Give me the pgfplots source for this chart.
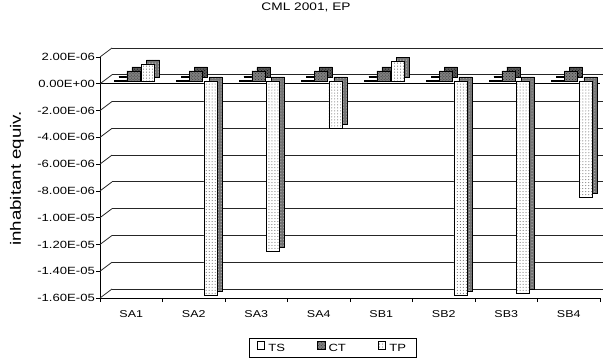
\documentclass[border=0pt]{standalone}
\usepackage{fontspec}
\setmainfont[FakeStretch=1.25]{Liberation Sans}
\usepackage{pgfplots}
\pgfplotsset{compat=1.18}
\usetikzlibrary{patterns}
\definecolor{ctgray}{gray}{0.5}
\definecolor{sidegray}{gray}{0.35}
\definecolor{tpside}{gray}{0.45}
\begin{document}
\begin{tikzpicture}
\begin{axis}[
  at={(100bp,64bp)}, anchor=south west,
  scale only axis, width=500bp, height=241bp,
  xmin=-0.5, xmax=7.5, ymin=-1.6e-5, ymax=2e-6,
  clip=false,
  axis x line=bottom, axis y line=left, axis line style={-, black, line width=0.7pt},
  scaled y ticks=false,
  ytick={-1.6e-5,-1.4e-5,-1.2e-5,-1e-5,-8e-6,-6e-6,-4e-6,-2e-6,0,2e-6},
  yticklabels={-1.60E-05,-1.40E-05,-1.20E-05,-1.00E-05,-8.00E-06,-6.00E-06,-4.00E-06,-2.00E-06,0.00E+00,2.00E-06},
  ymajorgrids,
  major grid style={black!85, line width=0.8pt, xshift=12bp, yshift=9bp},
  tick align=outside, major tick length=4bp,
  tick style={black, line width=0.6pt},
  xtick={-0.5,0.5,...,7.5}, xticklabels={},
  extra x ticks={0,1,2,3,4,5,6,7},
  extra x tick labels={SA1,SA2,SA3,SA4,SB1,SB2,SB3,SB4},
  extra x tick style={major tick length=0pt, xticklabel style={yshift=-9bp}},
  yticklabel style={font=\fontsize{10.5}{12}\selectfont, inner sep=1bp},
  xticklabel style={font=\fontsize{10}{12}\selectfont},
  ylabel={inhabitant equiv.},
  ylabel style={at={(axis description cs:-0.166,0.496)}, anchor=center, font=\fontsize{15}{18}\selectfont},
  title={CML 2001, EP},
  title style={at={(axis description cs:0.412,1.183)}, anchor=center, font=\fontsize{11}{13}\selectfont},
  legend columns=3,
  legend style={at={(axis description cs:0.465,-0.166)}, anchor=north, draw=black, line width=0.7pt,
    font=\fontsize{10.5}{12}\selectfont, inner xsep=8bp, inner ysep=3bp,
    /tikz/every even column/.append style={column sep=30bp}},
  legend image code/.code={\draw[#1, line width=0.5pt] (0bp,-3.75bp) rectangle (7.5bp,3.75bp); \path (9bp,0bp);},
]
\draw[black, line width=0.7pt] (axis cs:-0.5,0) -- (axis cs:7.5,0);
\pgfplotsinvokeforeach{-1.6e-5,-1.4e-5,-1.2e-5,-1e-5,-8e-6,-6e-6,-4e-6,-2e-6,0,2e-6}{
  \draw[black!85, line width=0.8pt] (axis cs:-0.5,#1) -- ++(12bp,9bp);
}
% TS
\addplot[forget plot, ybar, bar width=13bp, bar shift=-5.75bp, yshift=7bp, fill=sidegray, draw=black, line width=0.4pt]
  coordinates {(0,5e-8) (1,5e-8) (2,5e-8) (3,5e-8) (4,5e-8) (5,5e-8) (6,5e-8) (7,5e-8)};
\addplot[ybar, bar width=13bp, bar shift=-10.75bp, yshift=3bp, fill=white, draw=black, line width=0.4pt]
  coordinates {(0,5e-8) (1,5e-8) (2,5e-8) (3,5e-8) (4,5e-8) (5,5e-8) (6,5e-8) (7,5e-8)};
\addlegendentry{TS}
% CT
\addplot[forget plot, ybar, bar width=13bp, bar shift=7.25bp, yshift=7bp, fill=sidegray, draw=black, line width=0.4pt,
  postaction={pattern=crosshatch dots, pattern color=black}]
  coordinates {(0,7.4e-7) (1,7.4e-7) (2,7.4e-7) (3,7.4e-7) (4,7.4e-7) (5,7.4e-7) (6,7.4e-7) (7,7.4e-7)};
\addplot[ybar, bar width=13bp, bar shift=2.25bp, yshift=3bp, fill=ctgray, draw=black, line width=0.4pt,
  postaction={pattern=crosshatch dots, pattern color=black!80}]
  coordinates {(0,7.4e-7) (1,7.4e-7) (2,7.4e-7) (3,7.4e-7) (4,7.4e-7) (5,7.4e-7) (6,7.4e-7) (7,7.4e-7)};
\addlegendentry{CT}
% TP
\addplot[forget plot, ybar, bar width=13bp, bar shift=21.75bp, yshift=7bp, fill=tpside, draw=black, line width=0.4pt,
  postaction={pattern=dots, pattern color=white!85!black}]
  coordinates {(0,1.26e-6) (1,-1.6e-5) (2,-1.27e-5) (3,-3.56e-6) (4,1.46e-6) (5,-1.6e-5) (6,-1.585e-5) (7,-8.7e-6)};
\addplot[ybar, bar width=13bp, bar shift=16.75bp, yshift=3bp, fill=white, draw=black, line width=0.4pt,
  postaction={pattern=dots, pattern color=black!70}]
  coordinates {(0,1.26e-6) (1,-1.6e-5) (2,-1.27e-5) (3,-3.56e-6) (4,1.46e-6) (5,-1.6e-5) (6,-1.585e-5) (7,-8.7e-6)};
\addlegendentry{TP}
\end{axis}
\pgfresetboundingbox
\path[use as bounding box] (0,0) rectangle (603bp,362bp);
\end{tikzpicture}
\end{document}
